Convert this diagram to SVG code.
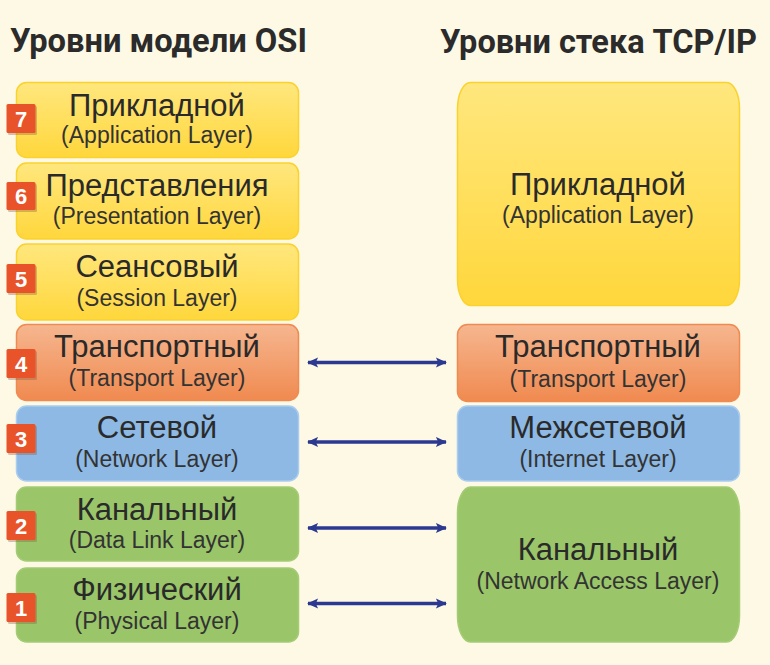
<svg xmlns="http://www.w3.org/2000/svg" width="770" height="665" viewBox="0 0 770 665">
<defs>
<linearGradient id="gy" x1="0" y1="0" x2="0" y2="1"><stop offset="0" stop-color="#FFE77E"/><stop offset="1" stop-color="#FFD73C"/></linearGradient>
<linearGradient id="go" x1="0" y1="0" x2="0" y2="1"><stop offset="0" stop-color="#F6B68F"/><stop offset="1" stop-color="#F08A50"/></linearGradient>
<marker id="ah" viewBox="0 0 12 12" refX="11" refY="6" markerWidth="12" markerHeight="11" markerUnits="userSpaceOnUse" orient="auto-start-reverse"><path d="M0,0.5 L12,6 L0,11.5 L2.5,6 Z" fill="#2B3990"/></marker>
<style>
.title{font-family:Roboto,"Liberation Sans",sans-serif;font-weight:bold;font-size:33px;fill:#2B2B2B}
.m{font-family:"Liberation Sans",Arial,sans-serif;font-size:31px;fill:#2A2A2A;text-anchor:middle}
.s{font-family:"Liberation Sans",Arial,sans-serif;font-size:23px;fill:#333333;text-anchor:middle}
.y{fill:url(#gy);stroke:#FAD22E;stroke-width:1.5}
.o{fill:url(#go);stroke:#EE8B52;stroke-width:1.5}
.b{fill:#8DB9E4;stroke:#A9CCEF;stroke-width:1.5}
.g{fill:#9AC669;stroke:#A3CC74;stroke-width:1.5}
.bd{fill:#E8532A}
.bs{fill:#8A5A40;opacity:0.35}
.bn{font-family:"Liberation Sans",Arial,sans-serif;font-size:22px;font-weight:bold;fill:#FFFFFF;text-anchor:middle}
.c{stroke:#2B3990;stroke-width:3.5;fill:none;marker-start:url(#ah);marker-end:url(#ah)}
</style>
</defs>
<rect width="770" height="665" fill="#FEF9E4"/>
<text class="title" x="10" y="52" textLength="297" lengthAdjust="spacingAndGlyphs">Уровни модели OSI</text>
<text class="title" x="440" y="53" textLength="317" lengthAdjust="spacingAndGlyphs">Уровни стека TCP/IP</text>

<g id="osi7"><rect class="y" x="16.5" y="82.5" width="282" height="75" rx="10"/><text class="m" x="157" y="116">Прикладной</text><text class="s" x="157" y="143">(Application Layer)</text></g>
<g id="osi6"><rect class="y" x="16.5" y="163" width="282" height="76" rx="10"/><text class="m" x="157" y="196">Представления</text><text class="s" x="157" y="224">(Presentation Layer)</text></g>
<g id="osi5"><rect class="y" x="16.5" y="244" width="282" height="76" rx="10"/><text class="m" x="157" y="277">Сеансовый</text><text class="s" x="157" y="306">(Session Layer)</text></g>
<g id="osi4"><rect class="o" x="16.5" y="324.5" width="282" height="76" rx="10"/><text class="m" x="157" y="357">Транспортный</text><text class="s" x="157" y="386">(Transport Layer)</text></g>
<g id="osi3"><rect class="b" x="16.5" y="406" width="282" height="75" rx="10"/><text class="m" x="157" y="438">Сетевой</text><text class="s" x="157" y="467">(Network Layer)</text></g>
<g id="osi2"><rect class="g" x="16.5" y="487" width="282" height="74" rx="10"/><text class="m" x="157" y="520">Канальный</text><text class="s" x="157" y="548">(Data Link Layer)</text></g>
<g id="osi1"><rect class="g" x="16.5" y="568" width="282" height="74" rx="10"/><text class="m" x="157" y="600">Физический</text><text class="s" x="157" y="629">(Physical Layer)</text></g>

<g id="badge7"><rect class="bs" x="8" y="106" width="29" height="29" rx="1.5"/><rect class="bd" x="6.5" y="104" width="29" height="29" rx="1.5"/><text class="bn" x="21" y="126.5">7</text></g>
<g id="badge6"><rect class="bs" x="8" y="184" width="29" height="28" rx="1.5"/><rect class="bd" x="6.5" y="182" width="29" height="28" rx="1.5"/><text class="bn" x="21" y="204">6</text></g>
<g id="badge5"><rect class="bs" x="8" y="266" width="29" height="29" rx="1.5"/><rect class="bd" x="6.5" y="264" width="29" height="29" rx="1.5"/><text class="bn" x="21" y="286.5">5</text></g>
<g id="badge4"><rect class="bs" x="8" y="351" width="29" height="29" rx="1.5"/><rect class="bd" x="6.5" y="349" width="29" height="29" rx="1.5"/><text class="bn" x="21" y="371.5">4</text></g>
<g id="badge3"><rect class="bs" x="8" y="426" width="29" height="29" rx="1.5"/><rect class="bd" x="6.5" y="424" width="29" height="29" rx="1.5"/><text class="bn" x="21" y="446.5">3</text></g>
<g id="badge2"><rect class="bs" x="8" y="513" width="29" height="29" rx="1.5"/><rect class="bd" x="6.5" y="511" width="29" height="29" rx="1.5"/><text class="bn" x="21" y="533.5">2</text></g>
<g id="badge1"><rect class="bs" x="8" y="595" width="29" height="29" rx="1.5"/><rect class="bd" x="6.5" y="593" width="29" height="29" rx="1.5"/><text class="bn" x="21" y="615.5">1</text></g>

<g id="tcp4"><rect class="y" x="457.5" y="82.5" width="282" height="223" rx="13" ry="26"/><text class="m" x="598" y="195">Прикладной</text><text class="s" x="598" y="223">(Application Layer)</text></g>
<g id="tcp3"><rect class="o" x="457.5" y="324.5" width="282" height="77" rx="10"/><text class="m" x="598" y="357">Транспортный</text><text class="s" x="598" y="387">(Transport Layer)</text></g>
<g id="tcp2"><rect class="b" x="457.5" y="406" width="282" height="75" rx="10"/><text class="m" x="598" y="438">Межсетевой</text><text class="s" x="598" y="467">(Internet Layer)</text></g>
<g id="tcp1"><rect class="g" x="457.5" y="487" width="282" height="155" rx="13" ry="26"/><text class="m" x="598" y="560">Канальный</text><text class="s" x="598" y="589">(Network Access Layer)</text></g>

<g id="connectors">
<line class="c" x1="308" y1="362.5" x2="446" y2="362.5"/>
<line class="c" x1="308" y1="442" x2="446" y2="442"/>
<line class="c" x1="308" y1="528" x2="446" y2="528"/>
<line class="c" x1="308" y1="603.5" x2="446" y2="603.5"/>
</g>
</svg>
